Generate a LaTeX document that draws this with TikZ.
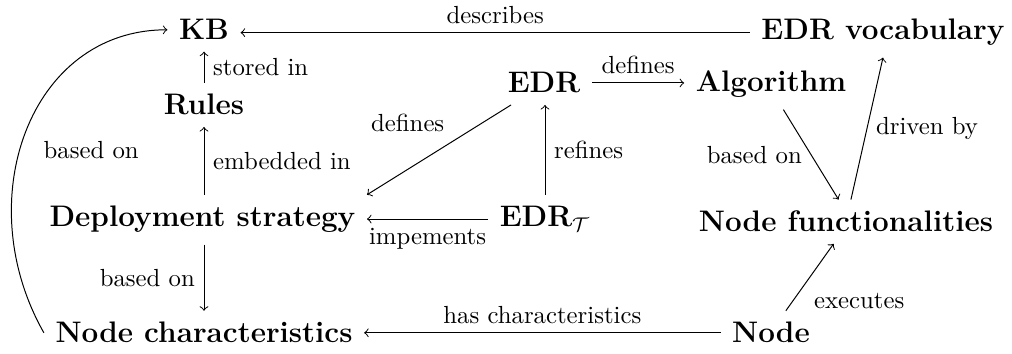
\documentclass[tikz,border=0pt]{standalone}
\begin{document}
\begin{tikzpicture}[x=0.404pt,y=-0.404pt,
  box/.style={font=\large\bfseries, inner xsep=4.5pt, inner ysep=4.5pt, anchor=base},
  lab/.style={font=\normalsize, inner sep=3.5pt},
  arr/.style={->, line width=0.4pt}]
\useasboundingbox (0,0) rectangle (1012,354);
\node[box] (KB) at (204,40) {KB};
\node[box] (EV) at (883,40) {EDR vocabulary};
\node[box] (R) at (204,115) {Rules};
\node[box] (EDR) at (544,93) {EDR};
\node[box] (Alg) at (771,92) {Algorithm};
\node[box] (Dep) at (202.5,227) {Deployment strategy};
\node[box] (EDRT) at (545,227) {EDR$_{\mathcal{T}}$};
\node[box] (NF) at (846,232) {Node functionalities};
\node[box] (NC) at (204,343) {Node characteristics};
\node[box] (N) at (771,343) {Node};
\draw[arr] (EV.west) -- (EV.west -| KB.east) node[lab, midway, above] {describes};
\draw[arr] (R.north) -- (KB.south) node[lab, midway, right] {stored in};
\draw[arr] (Dep.north -| R.south) -- (R.south) node[lab, midway, right] {embedded in};
\draw[arr] (Dep.south -| NC.north) -- (NC.north) node[lab, midway, left] {based on};
\draw[arr] (N.west) -- (NC.east) node[lab, midway, above] {has characteristics};
\draw[arr] ([xshift=6pt]N.north) -- ([xshift=-5pt]NF.south) node[lab, pos=0.4, below right] {executes};
\draw[arr] (EDRT.west) -- (EDRT.west -| Dep.east) node[lab, midway, below] {impements};
\draw[arr] (EDRT.north) -- (EDRT.north |- EDR.south) node[lab, midway, right] {refines};
\draw[arr] ([xshift=6pt]EDR.south west) -- (Dep.north east) node[lab, pos=0.4, above left] {defines};
\draw[arr] (EDR.east) -- (EDR.east -| Alg.west) node[lab, midway, above] {defines};
\draw[arr] ([xshift=5pt]Alg.south) -- ([xshift=-3pt]NF.north) node[lab, midway, left] {based on};
\draw[arr] ([xshift=2pt]NF.north) -- (EV.south) node[lab, midway, right] {driven by};
\draw[arr] (NC.west) .. controls +(-75,-132) and +(-138,0) .. (KB.west) node[lab, pos=0.45, right=6pt] {based on};
\end{tikzpicture}
\end{document}
